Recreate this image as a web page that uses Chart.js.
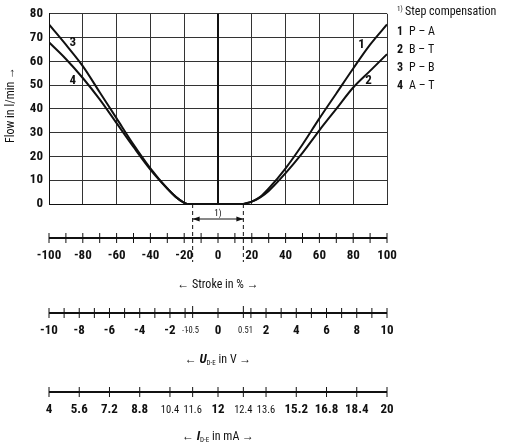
<!DOCTYPE html>
<html>
<head>
<meta charset="utf-8">
<script src="https://cdn.jsdelivr.net/npm/chart.js@4"></script>
<style>
  html, body { margin: 0; padding: 0; background: #fff; }
  #wrap { width: 506px; height: 446px; }
</style>
</head>
<body>
<div id="wrap"><canvas id="flowChart"></canvas></div>
<script>
// curve data (stroke in %, flow in l/min)
const strokeRight = [15, 20, 25, 30, 40, 50, 60, 70, 80, 90, 100];
const flowPA = [0, 1, 3, 6.5, 15, 25, 36, 46.5, 57, 67, 75.5];
const flowBT = [0, 1, 2.8, 5.5, 13, 21.5, 31, 40, 49, 56, 63];
const strokeLeft = [-100, -90, -80, -70, -60, -50, -40, -30, -25, -20, -18];
const flowPB = [75.5, 67, 58, 47, 36, 25, 15, 6.5, 3, 0.5, 0];
const flowAT = [68, 61, 53, 44, 34, 24, 14.5, 6.5, 3, 0.5, 0];
const deadBand = [-18, 15];

const curveLabels = ['1', '2', '3', '4'];
const curveLabelX = [85, 89, -86, -86];
const curveLabelY = [67, 52, 68, 52];

const legendLines = [['1', 'P – A'], ['2', 'B – T'], ['3', 'P – B'], ['4', 'A – T']];

// lower number lines
const strokeTicks = [-100, -90, -80, -70, -60, -50, -40, -30, -20, -10, 0, 10, 20, 30, 40, 50, 60, 70, 80, 90, 100];
const strokeLabels = [-100, -80, -60, -40, -20, 0, 20, 40, 60, 80, 100];
const voltTicks = [-10, -9, -8, -7, -6, -5, -4, -3, -2, -1, -0.5, 0, 0.5, 1, 2, 3, 4, 5, 6, 7, 8, 9, 10];
const voltLabels = ['-10', '-8', '-6', '-4', '-2', '-1', '-0.5', '0', '0.5', '1', '2', '4', '6', '8', '10'];
const currentTicks = ['4', '5.6', '7.2', '8.8', '10.4', '11.6', '12', '12.4', '13.6', '15.2', '16.8', '18.4', '20'];
const smallLabels = ['-1', '-0.5', '0.5', '1'];
const mediumLabels = ['10.4', '11.6', '12.4', '13.6'];

// voltage -> stroke position (step compensation at +-0.5 V = +-15 %)
function voltToStroke(v) {
  if (v <= -0.5) return -15 + (v + 0.5) / 9.5 * 85;
  if (v >= 0.5) return 15 + (v - 0.5) / 9.5 * 85;
  return v * 30;
}
function currentToStroke(i) { return voltToStroke((i - 12) / 0.8); }

const FONT = "'Liberation Sans Narrow', 'Roboto Condensed', 'Liberation Sans', sans-serif";

const overlay = {
  id: 'overlay',
  afterDraw(chart) {
    const c = chart.ctx, x = chart.scales.x, y = chart.scales.y;
    const px = v => x.getPixelForValue(v);
    c.save();
    c.fillStyle = '#111'; c.strokeStyle = '#111';

    // center line
    c.lineWidth = 2;
    c.beginPath(); c.moveTo(px(0), y.top); c.lineTo(px(0), y.bottom); c.stroke();

    // curve labels
    c.font = 'bold 13px ' + FONT; c.textAlign = 'center'; c.textBaseline = 'middle';
    curveLabels.forEach((t, k) => c.fillText(t, px(curveLabelX[k]), y.getPixelForValue(curveLabelY[k])));

    // dead band markers
    c.lineWidth = 1; c.setLineDash([4, 3]);
    [-15, 15].forEach(s => { c.beginPath(); c.moveTo(px(s), y.bottom); c.lineTo(px(s), 262); c.stroke(); });
    c.setLineDash([]);
    const ay = 219;
    c.beginPath(); c.moveTo(px(-15), ay); c.lineTo(px(15), ay); c.stroke();
    [[px(-15), 1], [px(15), -1]].forEach(([ax, d]) => {
      c.beginPath(); c.moveTo(ax, ay); c.lineTo(ax + 7 * d, ay - 2.5); c.lineTo(ax + 7 * d, ay + 2.5); c.closePath(); c.fill();
    });
    c.font = '9px ' + FONT; c.fillText('1)', px(0), ay - 5);

    // number lines
    function numberLine(ly, ticks, longTicks, labels, ty) {
      c.lineWidth = 2;
      c.beginPath(); c.moveTo(px(-100), ly); c.lineTo(px(100), ly); c.stroke();
      c.lineWidth = 1;
      ticks.forEach(s => {
        const h = longTicks.includes(s) ? 7 : 5;
        c.beginPath(); c.moveTo(px(s), ly - h); c.lineTo(px(s), ly + 5); c.stroke();
      });
      labels.forEach(([s, t]) => {
        c.font = (smallLabels.includes(t) ? '8.5px ' : mediumLabels.includes(t) ? '10.5px ' : 'bold 13px ') + FONT;
        c.fillText(t, px(s), ty);
      });
    }
    numberLine(238, strokeTicks, [], strokeLabels.map(v => [v, String(v)]), 256);
    numberLine(313, voltTicks.map(voltToStroke), [-15, 15], voltLabels.map(t => [voltToStroke(+t), t]), 331);
    numberLine(392, currentTicks.map(t => currentToStroke(+t)), [-15, 15], currentTicks.map(t => [currentToStroke(+t), t]), 410);

    // axis titles
    c.font = '12px ' + FONT;
    c.fillText('← Stroke in % →', px(0), 285);
    function subTitle(sym, unit, ty) {
      const parts = [['← ', '12px '], [sym, 'italic bold 13px '], ['D-E', '7px '], [' in ' + unit + ' →', '12px ']];
      let w = 0;
      parts.forEach(([t, f]) => { c.font = f + FONT; w += c.measureText(t).width; });
      let cx = px(0) - w / 2;
      c.textAlign = 'left';
      parts.forEach(([t, f], k) => {
        c.font = f + FONT;
        c.fillText(t, cx, k === 2 ? ty + 3 : ty);
        cx += c.measureText(t).width;
      });
      c.textAlign = 'center';
    }
    subTitle('U', 'V', 360);
    subTitle('I', 'mA', 437);

    // y title
    c.save();
    c.translate(11, 105); c.rotate(-Math.PI / 2);
    c.font = '12px ' + FONT; c.fillText('Flow in l/min →', 0, 0);
    c.restore();

    // legend
    c.textAlign = 'left';
    c.font = '7px ' + FONT; c.fillText('1)', 397, 9);
    c.font = '12px ' + FONT; c.fillText('Step compensation', 405, 12);
    legendLines.forEach(([n, t], k) => {
      c.font = 'bold 12px ' + FONT; c.fillText(n, 397, 32 + k * 18);
      c.font = '12px ' + FONT; c.fillText(t, 409, 32 + k * 18);
    });
    c.restore();
  }
};

const line = (xs, ys) => xs.map((v, k) => ({ x: v, y: ys[k] }));
const ds = data => ({ data, borderColor: '#111', borderWidth: 2, pointRadius: 0, cubicInterpolationMode: 'monotone', fill: false });

new Chart(document.getElementById('flowChart'), {
  type: 'scatter',
  data: {
    datasets: [
      ds(line(strokeRight, flowPA)),
      ds(line(strokeRight, flowBT)),
      ds(line(strokeLeft, flowPB)),
      ds(line(strokeLeft, flowAT)),
      ds(line(deadBand, [0, 0]))
    ].map(d => ({ ...d, showLine: true }))
  },
  options: {
    responsive: true,
    maintainAspectRatio: false,
    animation: false,
    layout: { padding: { top: 7, right: 119, bottom: 242, left: 0 } },
    plugins: { legend: { display: false }, tooltip: { enabled: false } },
    scales: {
      x: {
        type: 'linear', min: -100, max: 100,
        ticks: { display: false, stepSize: 20 },
        grid: { color: '#333', lineWidth: 1, drawTicks: false },
        border: { color: '#111', width: 1 }
      },
      y: {
        min: 0, max: 80,
        afterFit: s => { s.width = 49; },
        ticks: {
          stepSize: 5, color: '#111', padding: 6,
          font: { family: FONT, size: 13, weight: 'bold' },
          callback: v => v % 10 === 0 ? v : ''
        },
        grid: { color: '#333', lineWidth: 1, drawTicks: false },
        border: { color: '#111', width: 1 }
      }
    }
  },
  plugins: [overlay]
});
</script>
</body>
</html>
